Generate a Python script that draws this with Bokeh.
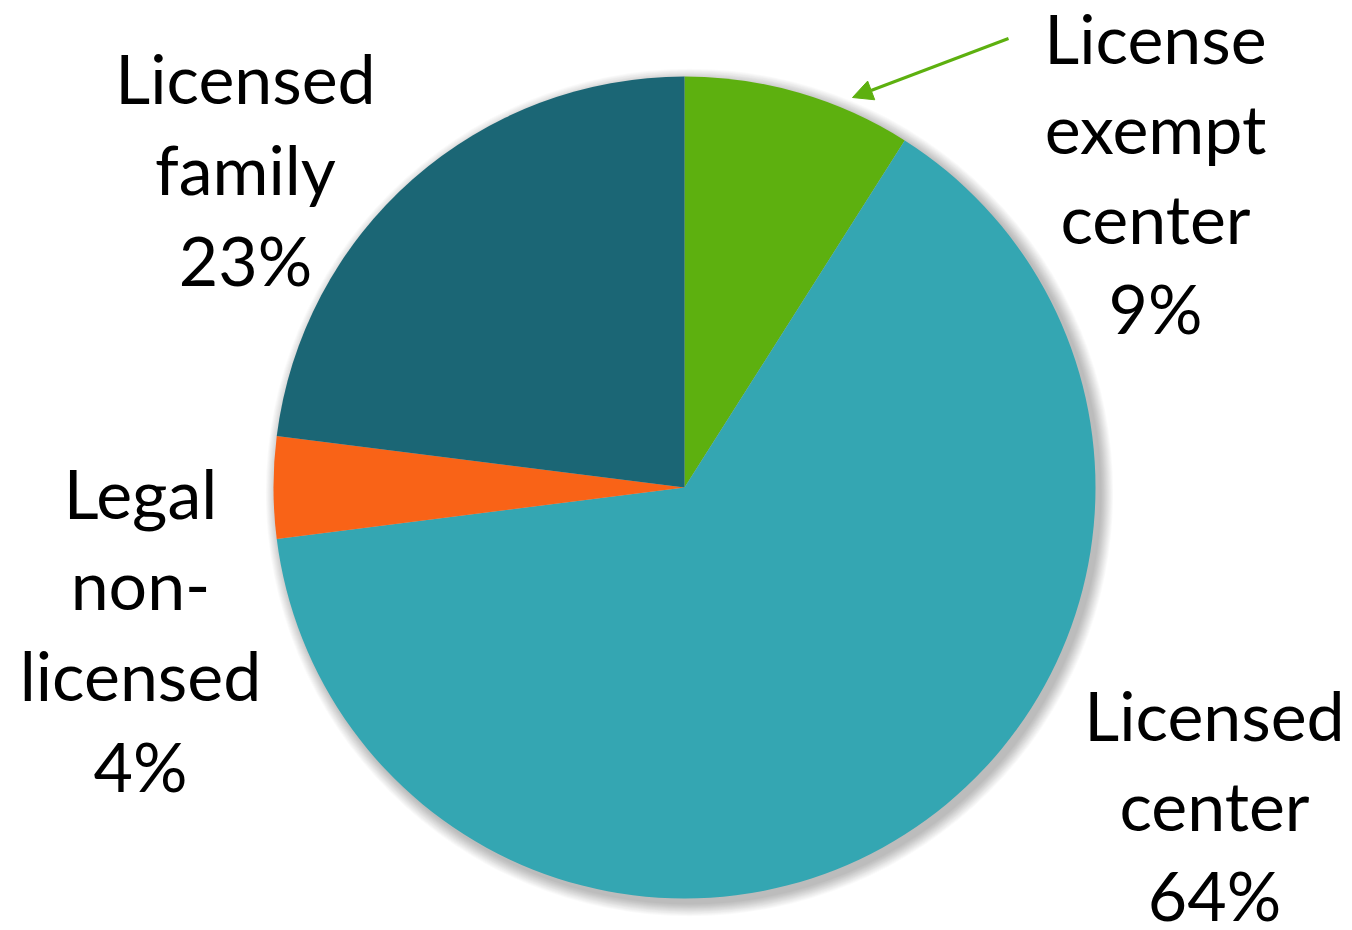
import math
from bokeh.plotting import figure
from bokeh.models import Range1d, Arrow, NormalHead, ColumnDataSource
from bokeh.core.properties import value
from bokeh.embed import file_html
from bokeh.resources import INLINE

# ---- data ----
categories = ["License exempt center", "Licensed center", "Legal non-licensed", "Licensed family"]
label_lines = [["License", "exempt", "center", "9%"],
               ["Licensed", "center", "64%"],
               ["Legal", "non-", "licensed", "4%"],
               ["Licensed", "family", "23%"]]
shares = [9, 64, 4, 23]
colors = ["#5DB00F", "#34A6B2", "#F96317", "#1B6675"]

# ---- layout (screen pixel coordinates, top-left origin) ----
W, H = 1344, 922
cx_px, cy_px, R = 684, 487, 411
label_anchor = [(1155, 37), (1214, 714), (140, 492), (245, 77)]
label_step = [90, 90, 91, 91]

def Y(py):
    return H - py

p = figure(width=W, height=H, output_backend="svg", toolbar_location=None,
           x_range=Range1d(0, W), y_range=Range1d(0, H),
           min_border=0, outline_line_color=None)
p.axis.visible = False
p.grid.visible = False
p.background_fill_color = "white"
p.border_fill_color = "white"

# soft shadow
for i in range(14):
    p.circle(x=cx_px + 5, y=Y(cy_px + 5), radius=R + 1 + i * 0.9,
             fill_color="black", fill_alpha=0.02, line_color=None)

# wedges: clockwise from 12 o'clock
total = float(sum(shares))
starts, ends = [], []
cum = 0.0
for v in shares:
    a = cum / total
    b = (cum + v) / total
    starts.append(math.radians(90 - 360 * b))
    ends.append(math.radians(90 - 360 * a))
    cum += v
src = ColumnDataSource(dict(cat=categories, share=shares, color=colors,
                            start=starts, end=ends))
p.wedge(x=cx_px, y=Y(cy_px), radius=R, start_angle="start", end_angle="end",
        fill_color="color", line_color=None, source=src)

# labels
for lines, (ax, ay), step in zip(label_lines, label_anchor, label_step):
    xs = [ax] * len(lines)
    ys = [Y(ay + k * step) for k in range(len(lines))]
    p.text(x=xs, y=ys, text=lines, text_font=value("Lato"), text_font_size="68px",
           text_align="center", text_baseline="middle", text_color="black")

# arrow to the small green slice
p.add_layout(Arrow(x_start=1008, y_start=Y(38), x_end=852, y_end=Y(97),
                   line_color="#5DB00F", line_width=3,
                   end=NormalHead(size=20, fill_color="#5DB00F", line_color="#5DB00F")))

open("out.html", "w").write(file_html(p, INLINE))
